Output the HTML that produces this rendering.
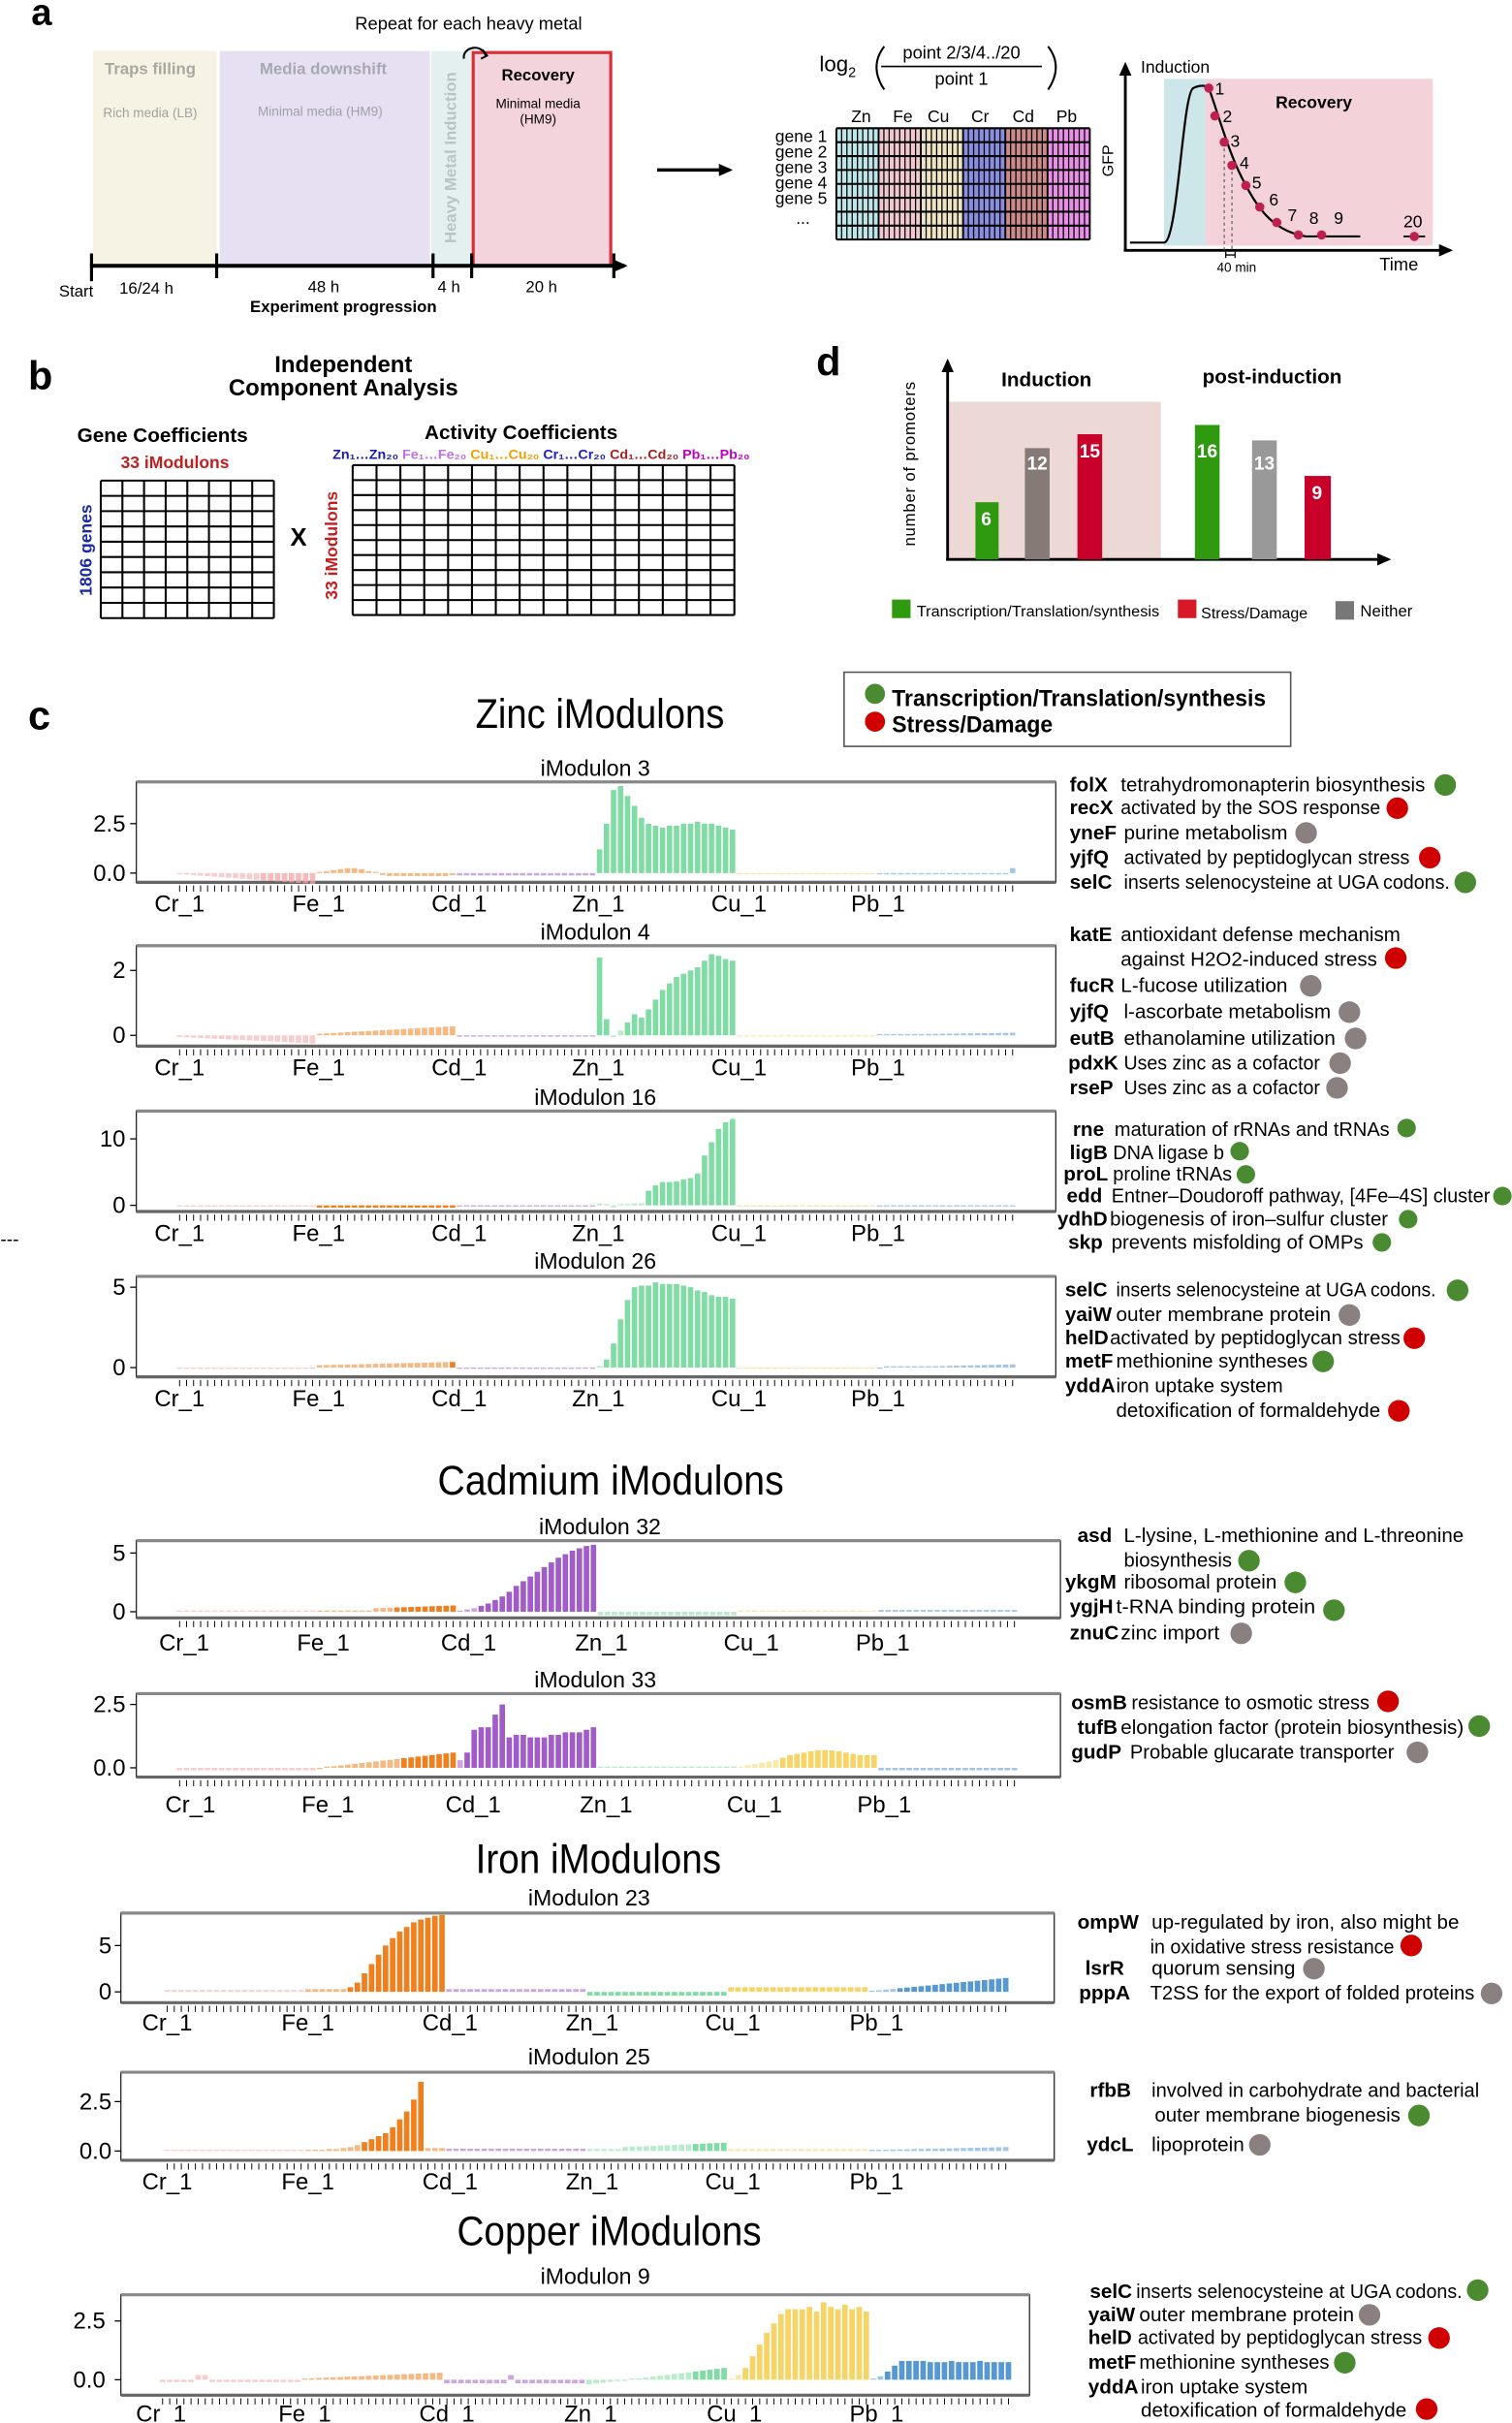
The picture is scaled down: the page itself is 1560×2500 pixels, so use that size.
<!DOCTYPE html>
<html><head><meta charset="utf-8">
<style>
html,body{margin:0;padding:0;background:#fff;}
svg{display:block;font-family:"Liberation Sans",sans-serif;}
.g{font-weight:bold;font-size:13px;}
.d{font-size:13px;}
.t{font-size:14.5px;}
.xl{font-size:15px;}
.yl{font-size:15px;text-anchor:end;}
</style></head><body>
<svg id="s" width="1560" height="2500" viewBox="0 0 978 1568" xmlns="http://www.w3.org/2000/svg">
<defs>
<marker id="ar" markerUnits="userSpaceOnUse" markerWidth="10" markerHeight="10" refX="7" refY="4" orient="auto"><path d="M0,0 L9,4 L0,8 z" fill="#000"/></marker>
</defs>
<!-- panel a -->
<text x="20" y="16" font-size="24" font-weight="bold">a</text>
<text x="303" y="19" font-size="11.5" text-anchor="middle">Repeat for each heavy metal</text>
<rect x="60" y="33" width="80" height="139" fill="#f6f2e4"/>
<rect x="142" y="33" width="136" height="139" fill="#e6e0f2"/>
<rect x="279" y="33" width="26" height="139" fill="#e4f0f0"/>
<rect x="306" y="34" width="89" height="138" fill="#f4d4dc" stroke="#d83038" stroke-width="2"/>
<text x="97" y="48" font-size="10.5" fill="#a8a8a0" text-anchor="middle" font-weight="bold">Traps filling</text>
<text x="97" y="76" font-size="8.5" fill="#a0a0a0" text-anchor="middle">Rich media (LB)</text>
<text x="209" y="48" font-size="10.5" fill="#a8a8b0" text-anchor="middle" font-weight="bold">Media downshift</text>
<text x="207" y="75" font-size="8.5" fill="#a0a0a8" text-anchor="middle">Minimal media (HM9)</text>
<text transform="translate(295,102) rotate(-90)" font-size="10.5" fill="#b8c4c4" font-weight="bold" text-anchor="middle">Heavy Metal Induction</text>
<text x="348" y="52" font-size="10.5" font-weight="bold" text-anchor="middle">Recovery</text>
<text x="348" y="70" font-size="8.5" text-anchor="middle">Minimal media</text>
<text x="348" y="80" font-size="8.5" text-anchor="middle">(HM9)</text>
<path d="M300,38 A7,6 0 1 1 314,36" fill="none" stroke="#000" stroke-width="1.3"/>
<path d="M312,32 l3,4 l-4,2" fill="none" stroke="#000" stroke-width="1.2"/>
<line x1="58" y1="172" x2="404" y2="172" stroke="#000" stroke-width="2.5" marker-end="url(#ar)"/>
<g stroke="#000" stroke-width="2"><line x1="59" y1="164" x2="59" y2="182"/><line x1="140" y1="164" x2="140" y2="180"/><line x1="280" y1="164" x2="280" y2="180"/><line x1="305" y1="164" x2="305" y2="180"/><line x1="397" y1="164" x2="397" y2="180"/></g>
<g font-size="10.5"><text x="38" y="192">Start</text><text x="77" y="190">16/24 h</text><text x="199" y="189">48 h</text><text x="283" y="189">4 h</text><text x="340" y="189">20 h</text></g>
<text x="222" y="202" font-size="10.5" font-weight="bold" text-anchor="middle">Experiment progression</text>
<line x1="425" y1="110" x2="472" y2="110" stroke="#000" stroke-width="2.2" marker-end="url(#ar)"/>
<text x="530" y="46" font-size="14">log<tspan font-size="9" dy="4">2</tspan></text>
<path d="M572,30 Q562,43 572,58" fill="none" stroke="#000" stroke-width="1.3"/>
<path d="M678,30 Q688,43 678,58" fill="none" stroke="#000" stroke-width="1.3"/>
<text x="622" y="38" font-size="11.5" text-anchor="middle">point 2/3/4../20</text>
<line x1="570" y1="43" x2="674" y2="43" stroke="#000" stroke-width="1"/>
<text x="622" y="55" font-size="11.5" text-anchor="middle">point 1</text>
<g font-size="11" text-anchor="middle"><text x="557" y="79">Zn</text><text x="584" y="79">Fe</text><text x="607" y="79">Cu</text><text x="634" y="79">Cr</text><text x="662" y="79">Cd</text><text x="690" y="79">Pb</text></g>
<g id="hm"></g>
<g font-size="11" text-anchor="end"><text x="535" y="92">gene 1</text><text x="535" y="102">gene 2</text><text x="535" y="112">gene 3</text><text x="535" y="122">gene 4</text><text x="535" y="132">gene 5</text><text x="524" y="145">...</text></g>
<rect x="753" y="51" width="27" height="108" fill="#cde6ea"/>
<rect x="780" y="51" width="147" height="108" fill="#f4d2da"/>
<line x1="728" y1="162" x2="728" y2="42" stroke="#000" stroke-width="1.8" marker-end="url(#ar)"/>
<line x1="727" y1="162" x2="938" y2="162" stroke="#000" stroke-width="1.8" marker-end="url(#ar)"/>
<path d="M731,157 L753,157 C762,157 765,60 772,57 C776,55 780,55 782,57 C787,70 795,100 805,118 C815,138 826,150 845,153 L880,153" fill="none" stroke="#000" stroke-width="1.4"/>
<line x1="908" y1="153" x2="922" y2="153" stroke="#000" stroke-width="1.2"/>
<g stroke="#555" stroke-dasharray="2,2" stroke-width="0.7"><line x1="792" y1="92" x2="792" y2="162"/><line x1="797" y1="107" x2="797" y2="162"/></g>
<g fill="#c02050"><circle cx="782" cy="57" r="3"/><circle cx="786" cy="75" r="3"/><circle cx="792" cy="92" r="3"/><circle cx="797" cy="107" r="3"/><circle cx="806" cy="120" r="3"/><circle cx="815" cy="134" r="3"/><circle cx="826" cy="144" r="3"/><circle cx="840" cy="152" r="3"/><circle cx="855" cy="152" r="3"/><circle cx="915" cy="153" r="3"/></g>
<g font-size="11"><text x="786" y="61">1</text><text x="791" y="79">2</text><text x="796" y="95">3</text><text x="802" y="109">4</text><text x="810" y="122">5</text><text x="821" y="133">6</text><text x="833" y="143">7</text><text x="847" y="145">8</text><text x="863" y="145">9</text><text x="908" y="147">20</text></g>
<text x="738" y="47" font-size="11">Induction</text>
<text x="850" y="70" font-size="11" font-weight="bold" text-anchor="middle">Recovery</text>
<text transform="translate(720,104) rotate(-90)" font-size="10" text-anchor="middle">GFP</text>
<text x="800" y="176" font-size="8.5" text-anchor="middle">40 min</text>
<path d="M793,165 h6 M793,163 v4 M799,163 v4" stroke="#000" stroke-width="0.8"/>
<text x="905" y="175" font-size="11.5" text-anchor="middle">Time</text>

<!-- panel b -->
<text x="18" y="252" font-size="26" font-weight="bold">b</text>
<text x="222" y="241" font-size="15" font-weight="bold" text-anchor="middle">Independent</text>
<text x="222" y="256" font-size="15" font-weight="bold" text-anchor="middle">Component Analysis</text>
<text x="105" y="286" font-size="13" font-weight="bold" text-anchor="middle">Gene Coefficients</text>
<text x="113" y="303" font-size="11" font-weight="bold" fill="#c02020" text-anchor="middle">33 iModulons</text>
<text transform="translate(59,356) rotate(-90)" font-size="11" font-weight="bold" fill="#1a2aa0" text-anchor="middle">1806 genes</text>
<text x="193" y="353" font-size="16" font-weight="bold" text-anchor="middle">X</text>
<text x="337" y="284" font-size="13" font-weight="bold" text-anchor="middle">Activity Coefficients</text>
<text x="215" y="297" font-size="8.5" font-weight="bold" textLength="270" lengthAdjust="spacingAndGlyphs"><tspan fill="#1a1ab0">Zn₁…Zn₂₀ </tspan><tspan fill="#c070e0">Fe₁…Fe₂₀ </tspan><tspan fill="#f0a000">Cu₁…Cu₂₀ </tspan><tspan fill="#2020c0">Cr₁…Cr₂₀ </tspan><tspan fill="#a82020">Cd₁…Cd₂₀ </tspan><tspan fill="#c000c0">Pb₁…Pb₂₀</tspan></text>
<text transform="translate(218,353) rotate(-90)" font-size="11" font-weight="bold" fill="#c02020" text-anchor="middle">33 iModulons</text>
<g id="grids"></g>

<!-- panel d -->
<text x="528" y="243" font-size="26" font-weight="bold">d</text>
<rect x="613" y="260" width="138" height="102" fill="#ecd8d4"/>
<line x1="613" y1="362" x2="613" y2="234" stroke="#000" stroke-width="1.8" marker-end="url(#ar)"/>
<line x1="612" y1="362" x2="898" y2="362" stroke="#000" stroke-width="1.8" marker-end="url(#ar)"/>
<rect x="631" y="325" width="15" height="37" fill="#2f9a10"/>
<rect x="663" y="290" width="16" height="72" fill="#857a76"/>
<rect x="697" y="281" width="16" height="81" fill="#c8002a"/>
<rect x="773" y="275" width="16" height="87" fill="#2f9a10"/>
<rect x="810" y="285" width="16" height="77" fill="#999"/>
<rect x="844" y="308" width="17" height="54" fill="#c8002a"/>
<g font-size="12" font-weight="bold" fill="#fff" text-anchor="middle"><text x="638" y="340">6</text><text x="671" y="304">12</text><text x="705" y="296">15</text><text x="781" y="296">16</text><text x="818" y="304">13</text><text x="852" y="323">9</text></g>
<text x="677" y="250" font-size="13" font-weight="bold" text-anchor="middle">Induction</text>
<text x="823" y="248" font-size="13" font-weight="bold" text-anchor="middle">post-induction</text>
<text transform="translate(592,300) rotate(-90)" font-size="10.5" text-anchor="middle" letter-spacing="0.5">number of promoters</text>
<rect x="577" y="388" width="12" height="12" fill="#2f9a10"/><text x="593" y="399" font-size="10" textLength="157" lengthAdjust="spacingAndGlyphs">Transcription/Translation/synthesis</text>
<rect x="762" y="388" width="12" height="12" fill="#d81828"/><text x="777" y="400" font-size="10" textLength="69" lengthAdjust="spacingAndGlyphs">Stress/Damage</text>
<rect x="864" y="389" width="12" height="12" fill="#777"/><text x="880" y="399" font-size="10.5">Neither</text>

<!-- panel c -->
<text x="18" y="472" font-size="26" font-weight="bold">c</text>
<rect x="546" y="435" width="289" height="48" fill="#fff" stroke="#555" stroke-width="1"/>
<circle cx="566" cy="449" r="6.5" fill="#4a8a30"/><text x="577" y="457" font-size="15" font-weight="bold" textLength="242" lengthAdjust="spacingAndGlyphs">Transcription/Translation/synthesis</text>
<circle cx="566" cy="467" r="6.5" fill="#d00000"/><text x="577" y="474" font-size="15" font-weight="bold" textLength="104" lengthAdjust="spacingAndGlyphs">Stress/Damage</text>
<text x="0" y="806" font-size="12">---</text>

<g font-size="27" text-anchor="middle">
<text x="388" y="471" textLength="161" lengthAdjust="spacingAndGlyphs">Zinc iModulons</text>
<text x="395" y="967" textLength="224" lengthAdjust="spacingAndGlyphs">Cadmium iModulons</text>
<text x="387" y="1212" textLength="159" lengthAdjust="spacingAndGlyphs">Iron iModulons</text>
<text x="394" y="1453" textLength="197" lengthAdjust="spacingAndGlyphs">Copper iModulons</text>
</g>
<g class="t" text-anchor="middle">
<text x="385" y="502">iModulon 3</text>
<text x="385" y="608">iModulon 4</text>
<text x="385" y="715">iModulon 16</text>
<text x="385" y="821">iModulon 26</text>
<text x="388" y="993">iModulon 32</text>
<text x="385" y="1092">iModulon 33</text>
<text x="381" y="1233">iModulon 23</text>
<text x="381" y="1336">iModulon 25</text>
<text x="385" y="1478">iModulon 9</text>
</g>
<g id="charts"></g>
<g class="yl">
<text x="81" y="538">2.5</text><text x="81" y="570">0.0</text>
<text x="81" y="633">2</text><text x="81" y="675">0</text>
<text x="81" y="742">10</text><text x="81" y="785">0</text>
<text x="81" y="838">5</text><text x="81" y="890">0</text>
<text x="81" y="1010">5</text><text x="81" y="1048">0</text>
<text x="81" y="1108">2.5</text><text x="81" y="1149">0.0</text>
<text x="72" y="1264">5</text><text x="72" y="1294">0</text>
<text x="72" y="1365">2.5</text><text x="72" y="1397">0.0</text>
<text x="68" y="1507">2.5</text><text x="68" y="1545">0.0</text>
</g>
<g class="xl" text-anchor="middle">
<text x="116" y="590">Cr_1</text><text x="206" y="590">Fe_1</text><text x="297" y="590">Cd_1</text><text x="387" y="590">Zn_1</text><text x="478" y="590">Cu_1</text><text x="568" y="590">Pb_1</text>
<text x="116" y="696">Cr_1</text><text x="206" y="696">Fe_1</text><text x="297" y="696">Cd_1</text><text x="387" y="696">Zn_1</text><text x="478" y="696">Cu_1</text><text x="568" y="696">Pb_1</text>
<text x="116" y="803">Cr_1</text><text x="206" y="803">Fe_1</text><text x="297" y="803">Cd_1</text><text x="387" y="803">Zn_1</text><text x="478" y="803">Cu_1</text><text x="568" y="803">Pb_1</text>
<text x="116" y="910">Cr_1</text><text x="206" y="910">Fe_1</text><text x="297" y="910">Cd_1</text><text x="387" y="910">Zn_1</text><text x="478" y="910">Cu_1</text><text x="568" y="910">Pb_1</text>
<text x="119" y="1068">Cr_1</text><text x="209" y="1068">Fe_1</text><text x="303" y="1068">Cd_1</text><text x="389" y="1068">Zn_1</text><text x="486" y="1068">Cu_1</text><text x="571" y="1068">Pb_1</text>
<text x="123" y="1173">Cr_1</text><text x="212" y="1173">Fe_1</text><text x="306" y="1173">Cd_1</text><text x="392" y="1173">Zn_1</text><text x="488" y="1173">Cu_1</text><text x="572" y="1173">Pb_1</text>
<text x="108" y="1314">Cr_1</text><text x="199" y="1314">Fe_1</text><text x="291" y="1314">Cd_1</text><text x="383" y="1314">Zn_1</text><text x="474" y="1314">Cu_1</text><text x="567" y="1314">Pb_1</text>
<text x="108" y="1417">Cr_1</text><text x="199" y="1417">Fe_1</text><text x="291" y="1417">Cd_1</text><text x="383" y="1417">Zn_1</text><text x="474" y="1417">Cu_1</text><text x="567" y="1417">Pb_1</text>
<text x="104" y="1567">Cr_1</text><text x="197" y="1567">Fe_1</text><text x="289" y="1567">Cd_1</text><text x="382" y="1567">Zn_1</text><text x="475" y="1567">Cu_1</text><text x="567" y="1567">Pb_1</text>
</g>
<g>
<text class="g" x="692" y="512">folX</text><text class="d" x="725" y="512" textLength="197" lengthAdjust="spacingAndGlyphs">tetrahydromonapterin biosynthesis</text><circle cx="935" cy="508" r="7" fill="#4a8a30"/>
<text class="g" x="692" y="527">recX</text><text class="d" x="725" y="527" textLength="168" lengthAdjust="spacingAndGlyphs">activated by the SOS response</text><circle cx="904" cy="523" r="7" fill="#d00000"/>
<text class="g" x="692" y="543">yneF</text><text class="d" x="727" y="543" textLength="106" lengthAdjust="spacingAndGlyphs">purine metabolism</text><circle cx="845" cy="539" r="7" fill="#8a8080"/>
<text class="g" x="692" y="559">yjfQ</text><text class="d" x="727" y="559" textLength="185" lengthAdjust="spacingAndGlyphs">activated by peptidoglycan stress</text><circle cx="925" cy="555" r="7" fill="#d00000"/>
<text class="g" x="692" y="575">selC</text><text class="d" x="727" y="575" textLength="211" lengthAdjust="spacingAndGlyphs">inserts selenocysteine at UGA codons.</text><circle cx="948" cy="571" r="7" fill="#4a8a30"/>

<text class="g" x="692" y="609">katE</text><text class="d" x="725" y="609" textLength="181" lengthAdjust="spacingAndGlyphs">antioxidant defense mechanism</text>
<text class="d" x="725" y="625" textLength="166" lengthAdjust="spacingAndGlyphs">against H2O2-induced stress</text><circle cx="903" cy="620" r="7" fill="#d00000"/>
<text class="g" x="692" y="642">fucR</text><text class="d" x="725" y="642" textLength="108" lengthAdjust="spacingAndGlyphs">L-fucose utilization</text><circle cx="848" cy="638" r="7" fill="#8a8080"/>
<text class="g" x="692" y="659">yjfQ</text><text class="d" x="727" y="659" textLength="134" lengthAdjust="spacingAndGlyphs">l-ascorbate metabolism</text><circle cx="873" cy="655" r="7" fill="#8a8080"/>
<text class="g" x="692" y="676">eutB</text><text class="d" x="727" y="676" textLength="137" lengthAdjust="spacingAndGlyphs">ethanolamine  utilization</text><circle cx="877" cy="672" r="7" fill="#8a8080"/>
<text class="g" x="691" y="692">pdxK</text><text class="d" x="727" y="692" textLength="127" lengthAdjust="spacingAndGlyphs">Uses zinc as a cofactor</text><circle cx="867" cy="688" r="7" fill="#8a8080"/>
<text class="g" x="692" y="708">rseP</text><text class="d" x="727" y="708" textLength="127" lengthAdjust="spacingAndGlyphs">Uses zinc as a cofactor</text><circle cx="865" cy="704" r="7" fill="#8a8080"/>

<text class="g" x="694" y="735">rne</text><text class="d" x="721" y="735" textLength="178" lengthAdjust="spacingAndGlyphs">maturation of rRNAs and tRNAs</text><circle cx="910" cy="730" r="6" fill="#4a8a30"/>
<text class="g" x="692" y="750">ligB</text><text class="d" x="720" y="750" textLength="72" lengthAdjust="spacingAndGlyphs">DNA ligase b</text><circle cx="802" cy="745" r="6" fill="#4a8a30"/>
<text class="g" x="688" y="764">proL</text><text class="d" x="720" y="764" textLength="77" lengthAdjust="spacingAndGlyphs">proline tRNAs</text><circle cx="806" cy="760" r="6" fill="#4a8a30"/>
<text class="g" x="690" y="778">edd</text><text class="d" x="719" y="778" textLength="245" lengthAdjust="spacingAndGlyphs">Entner–Doudoroff pathway, [4Fe–4S] cluster</text><circle cx="972" cy="774" r="6" fill="#4a8a30"/>
<text class="g" x="684" y="793">ydhD</text><text class="d" x="718" y="793" textLength="180" lengthAdjust="spacingAndGlyphs">biogenesis of iron–sulfur cluster</text><circle cx="911" cy="789" r="6" fill="#4a8a30"/>
<text class="g" x="691" y="808">skp</text><text class="d" x="719" y="808" textLength="163" lengthAdjust="spacingAndGlyphs">prevents misfolding of OMPs</text><circle cx="894" cy="804" r="6" fill="#4a8a30"/>

<text class="g" x="689" y="839">selC</text><text class="d" x="722" y="839" textLength="207" lengthAdjust="spacingAndGlyphs">inserts selenocysteine at UGA codons.</text><circle cx="943" cy="835" r="7" fill="#4a8a30"/>
<text class="g" x="689" y="855">yaiW</text><text class="d" x="722" y="855" textLength="139" lengthAdjust="spacingAndGlyphs">outer membrane protein</text><circle cx="873" cy="851" r="7" fill="#8a8080"/>
<text class="g" x="689" y="870">helD</text><text class="d" x="718" y="870" textLength="188" lengthAdjust="spacingAndGlyphs">activated by peptidoglycan stress</text><circle cx="915" cy="866" r="7" fill="#d00000"/>
<text class="g" x="689" y="885">metF</text><text class="d" x="722" y="885" textLength="124" lengthAdjust="spacingAndGlyphs">methionine syntheses</text><circle cx="856" cy="881" r="7" fill="#4a8a30"/>
<text class="g" x="689" y="901">yddA</text><text class="d" x="722" y="901" textLength="108" lengthAdjust="spacingAndGlyphs">iron uptake system</text>
<text class="d" x="722" y="917" textLength="171" lengthAdjust="spacingAndGlyphs">detoxification of formaldehyde</text><circle cx="905" cy="913" r="7" fill="#d00000"/>

<text class="g" x="697" y="998">asd</text><text class="d" x="727" y="998" textLength="220" lengthAdjust="spacingAndGlyphs">L-lysine, L-methionine and L-threonine</text>
<text class="d" x="727" y="1014" textLength="70" lengthAdjust="spacingAndGlyphs">biosynthesis</text><circle cx="808" cy="1010" r="7" fill="#4a8a30"/>
<text class="g" x="689" y="1028">ykgM</text><text class="d" x="727" y="1028" textLength="99" lengthAdjust="spacingAndGlyphs">ribosomal protein</text><circle cx="838" cy="1024" r="7" fill="#4a8a30"/>
<text class="g" x="692" y="1044">ygjH</text><text class="d" x="722" y="1044" textLength="129" lengthAdjust="spacingAndGlyphs">t-RNA binding protein</text><circle cx="863" cy="1042" r="7" fill="#4a8a30"/>
<text class="g" x="692" y="1061">znuC</text><text class="d" x="725" y="1061" textLength="64" lengthAdjust="spacingAndGlyphs">zinc import</text><circle cx="803" cy="1057" r="7" fill="#8a8080"/>

<text class="g" x="693" y="1106">osmB</text><text class="d" x="732" y="1106" textLength="154" lengthAdjust="spacingAndGlyphs">resistance to osmotic stress</text><circle cx="898" cy="1101" r="7" fill="#d00000"/>
<text class="g" x="697" y="1122">tufB</text><text class="d" x="725" y="1122" textLength="222" lengthAdjust="spacingAndGlyphs">elongation factor (protein biosynthesis)</text><circle cx="957" cy="1117" r="7" fill="#4a8a30"/>
<text class="g" x="693" y="1138">gudP</text><text class="d" x="731" y="1138" textLength="171" lengthAdjust="spacingAndGlyphs">Probable glucarate transporter</text><circle cx="917" cy="1134" r="7" fill="#8a8080"/>

<text class="g" x="697" y="1248">ompW</text><text class="d" x="745" y="1248" textLength="199" lengthAdjust="spacingAndGlyphs">up-regulated by iron, also might be</text>
<text class="d" x="744" y="1264" textLength="158" lengthAdjust="spacingAndGlyphs">in oxidative stress resistance</text><circle cx="913" cy="1259" r="7" fill="#d00000"/>
<text class="g" x="702" y="1278">lsrR</text><text class="d" x="745" y="1278" textLength="93" lengthAdjust="spacingAndGlyphs">quorum sensing</text><circle cx="850" cy="1274" r="7" fill="#8a8080"/>
<text class="g" x="698" y="1294">pppA</text><text class="d" x="744" y="1294" textLength="210" lengthAdjust="spacingAndGlyphs">T2SS for the export of folded proteins</text><circle cx="965" cy="1290" r="7" fill="#8a8080"/>

<text class="g" x="705" y="1357">rfbB</text><text class="d" x="745" y="1357" textLength="212" lengthAdjust="spacingAndGlyphs">involved in carbohydrate and bacterial</text>
<text class="d" x="747" y="1373" textLength="159" lengthAdjust="spacingAndGlyphs">outer membrane biogenesis</text><circle cx="918" cy="1369" r="7" fill="#4a8a30"/>
<text class="g" x="703" y="1392">ydcL</text><text class="d" x="745" y="1392" textLength="60" lengthAdjust="spacingAndGlyphs">lipoprotein</text><circle cx="815" cy="1388" r="7" fill="#8a8080"/>

<text class="g" x="705" y="1487">selC</text><text class="d" x="735" y="1487" textLength="211" lengthAdjust="spacingAndGlyphs">inserts selenocysteine at UGA codons.</text><circle cx="956" cy="1482" r="7" fill="#4a8a30"/>
<text class="g" x="704" y="1502">yaiW</text><text class="d" x="737" y="1502" textLength="139" lengthAdjust="spacingAndGlyphs">outer membrane protein</text><circle cx="886" cy="1498" r="7" fill="#8a8080"/>
<text class="g" x="704" y="1517">helD</text><text class="d" x="736" y="1517" textLength="184" lengthAdjust="spacingAndGlyphs">activated by peptidoglycan stress</text><circle cx="931" cy="1513" r="7" fill="#d00000"/>
<text class="g" x="704" y="1533">metF</text><text class="d" x="737" y="1533" textLength="123" lengthAdjust="spacingAndGlyphs">methionine syntheses</text><circle cx="870" cy="1529" r="7" fill="#4a8a30"/>
<text class="g" x="704" y="1549">yddA</text><text class="d" x="738" y="1549" textLength="108" lengthAdjust="spacingAndGlyphs">iron uptake system</text>
<text class="d" x="738" y="1564" textLength="172" lengthAdjust="spacingAndGlyphs">detoxification of formaldehyde</text><circle cx="923" cy="1559" r="7" fill="#d00000"/>
</g>
</svg>
<script>
(function(){
var NS="http://www.w3.org/2000/svg";
function el(p,t,a){var e=document.createElementNS(NS,t);for(var k in a)e.setAttribute(k,a[k]);p.appendChild(e);return e;}
var hm=document.getElementById("hm");
var cols=["#bfe6e8","#f2c8d0","#eee4c2","#8a8ee0","#cc8a88","#e890e6"];
for(var i=0;i<6;i++)el(hm,"rect",{x:541+i*27.3,y:83,width:27.3,height:72,fill:cols[i]});
for(var i=0;i<=48;i++){var x=541+i*164/48;el(hm,"line",{x1:x,y1:83,x2:x,y2:155,stroke:"#000","stroke-width":i%8==0?1.2:0.8});}
for(var j=0;j<=8;j++){var y=83+j*9;el(hm,"line",{x1:541,y1:y,x2:705,y2:y,stroke:"#000","stroke-width":1.3});}
var g=document.getElementById("grids");
function grid(x0,y0,x1,y1,nc,nr){for(var i=0;i<=nc;i++){var x=x0+(x1-x0)*i/nc;el(g,"line",{x1:x,y1:y0,x2:x,y2:y1,stroke:"#000","stroke-width":1.3});}
for(var j=0;j<=nr;j++){var y=y0+(y1-y0)*j/nr;el(g,"line",{x1:x0,y1:y,x2:x1,y2:y,stroke:"#000","stroke-width":1.3});}}
grid(65,311,177,400,8,9);grid(228,301,475,398,16,10);
var R=function(a,b){var r=[];for(var i=0;i<20;i++)r.push(a+(b-a)*i/19);return r;};
var C=function(v){var r=[];for(var i=0;i<20;i++)r.push(v);return r;};
var S=function(a,i,v){a[i]=v;return a;};
var J=function(a,b){return a.concat(b);};
var gc=["#f4a4a4","#f07f1e","#a05cc8","#80dca4","#f6d466","#5898d2"];
var ch=document.getElementById("charts");
function chart(c){
 var b=c.box;
 el(ch,"rect",{x:b[0],y:b[1],width:b[2]-b[0],height:b[3]-b[1],fill:"none",stroke:"#222","stroke-width":0.8});
 el(ch,"line",{x1:b[0],y1:b[1],x2:b[2],y2:b[1],stroke:"#888","stroke-width":2});
 el(ch,"line",{x1:b[0],y1:b[3],x2:b[2],y2:b[3],stroke:"#666","stroke-width":2});
 for(var k=0;k<c.yt.length;k++)el(ch,"line",{x1:b[0]-4,y1:c.yt[k],x2:b[0],y2:c.yt[k],stroke:"#000","stroke-width":0.8});
 for(var gi=0;gi<6;gi++)for(var i=0;i<20;i++){
  var v=c.d[gi][i],x=c.x0+(gi*20+i)*c.st;
  var h=Math.abs(v*c.s);if(h<0.8)h=0.8;
  var op=Math.abs(v)<0.35?0.55:1; if(gi==0)op=Math.min(op,0.75);
  el(ch,"rect",{x:x-c.st*0.4,y:v>0?c.z-h:c.z,width:c.st*0.78,height:h,fill:gc[gi],"fill-opacity":op});
  el(ch,"line",{x1:x,y1:b[3]+2,x2:x,y2:b[3]+6,stroke:"#000","stroke-width":0.6});
 }
}
var zc=[1.2,2.5,4.2,4.4,3.9,3.4,2.8,2.5,2.4,2.3,2.4,2.4,2.5,2.5,2.6,2.5,2.5,2.4,2.3,2.2];
chart({box:[88,506,683,571],z:565,s:12.8,x0:116,st:4.53,yt:[533,565],d:[R(-0.05,-0.55),[.05,.1,.15,.2,.25,.25,.2,.1,.05,-.1,-.15,-.15,-.15,-.15,-.15,-.15,-.15,-.15,-.15,-.1],C(-0.12),zc,C(-0.06),S(C(-0.04),19,0.25)]});
chart({box:[88,612,683,677],z:670,s:21,x0:116,st:4.53,yt:[628,670],d:[R(-0.05,-0.25),R(0.05,0.28),C(-0.04),[2.4,0.5,-0.05,0.15,0.4,0.65,0.55,0.8,1.1,1.4,1.6,1.8,1.9,2.0,2.1,2.3,2.5,2.45,2.35,2.3],C(-0.03),R(0.02,0.08)]});
chart({box:[88,719,683,784],z:780,s:4.3,x0:116,st:4.53,yt:[737,780],d:[C(-0.15),C(-0.35),C(-0.1),[0.3,0.1,-0.3,0.1,0.2,0.3,0.3,2.2,3.0,3.5,3.5,3.6,3.9,4.1,4.8,7.5,9.5,11.5,12.5,13],C(-0.05),C(-0.05)]});
chart({box:[88,826,683,891],z:885,s:10.4,x0:116,st:4.53,yt:[833,885],d:[C(-0.08),R(0.15,0.35),C(-0.05),[0.1,0.5,1.5,3,4.2,5.0,5.1,5.1,5.3,5.2,5.2,5.2,5.1,5.0,4.8,4.7,4.5,4.4,4.4,4.3],C(-0.05),R(0.0,0.2)]});
chart({box:[88,997,686,1047],z:1043,s:7.6,x0:116,st:4.54,yt:[1005,1043],d:[C(0.05),J(C(0.05).slice(0,8),R(0.3,0.7).slice(0,12)),[0.1,0.2,0.3,0.5,0.7,1,1.3,1.7,2.2,2.6,3,3.4,3.8,4.2,4.6,4.9,5.2,5.4,5.6,5.7],C(-0.3),C(0.1),C(0.15)]});
chart({box:[88,1096,686,1150],z:1144,s:16.4,x0:116,st:4.54,yt:[1103,1144],d:[C(-0.1),R(0.0,0.6),[0.3,0.6,1.5,1.6,1.6,2.1,2.5,1.2,1.3,1.3,1.2,1.2,1.2,1.3,1.3,1.4,1.4,1.4,1.5,1.6],C(0.05),[0.05,0.1,0.15,0.2,0.25,0.3,0.4,0.5,0.55,0.6,0.65,0.7,0.7,0.68,0.65,0.6,0.55,0.5,0.5,0.5],C(-0.1)]});
chart({box:[78,1238,682,1296],z:1289,s:6,x0:108,st:4.56,yt:[1259,1289],d:[C(0.2),[0.3,0.3,0.3,0.3,0.3,0.3,0.5,1,2,3,4,5,5.8,6.5,7,7.5,7.8,8,8.2,8.3],C(0.3),C(-0.4),C(0.5),R(0.1,1.5)]});
chart({box:[78,1341,682,1398],z:1392,s:12.8,x0:108,st:4.56,yt:[1360,1392],d:[C(0.05),[0.05,0.05,0.05,0.1,0.1,0.15,0.2,0.3,0.45,0.6,0.75,0.9,1.2,1.6,2.0,2.6,3.5,0.15,0.15,0.15],C(0.12),J(C(0.1).slice(0,5),R(0.2,0.5).slice(0,15)),C(0.1),R(0.05,0.2)]});
chart({box:[78,1485,666,1550],z:1540,s:15.2,x0:105,st:4.6,yt:[1502,1540],d:[S(S(C(-0.1),5,0.2),6,0.2),R(0.05,0.3),S(C(-0.15),9,0.2),R(-0.2,0.5),[0.05,0.2,0.5,1,1.5,2,2.4,2.8,3.0,3.0,3.0,3.1,2.9,3.3,3.1,3.0,3.2,3.0,3.1,2.9],[0.05,0.15,0.35,0.6,0.8,0.8,0.8,0.8,0.75,0.75,0.75,0.8,0.75,0.75,0.75,0.8,0.75,0.75,0.75,0.75]]});
})();
</script>
</body></html>
